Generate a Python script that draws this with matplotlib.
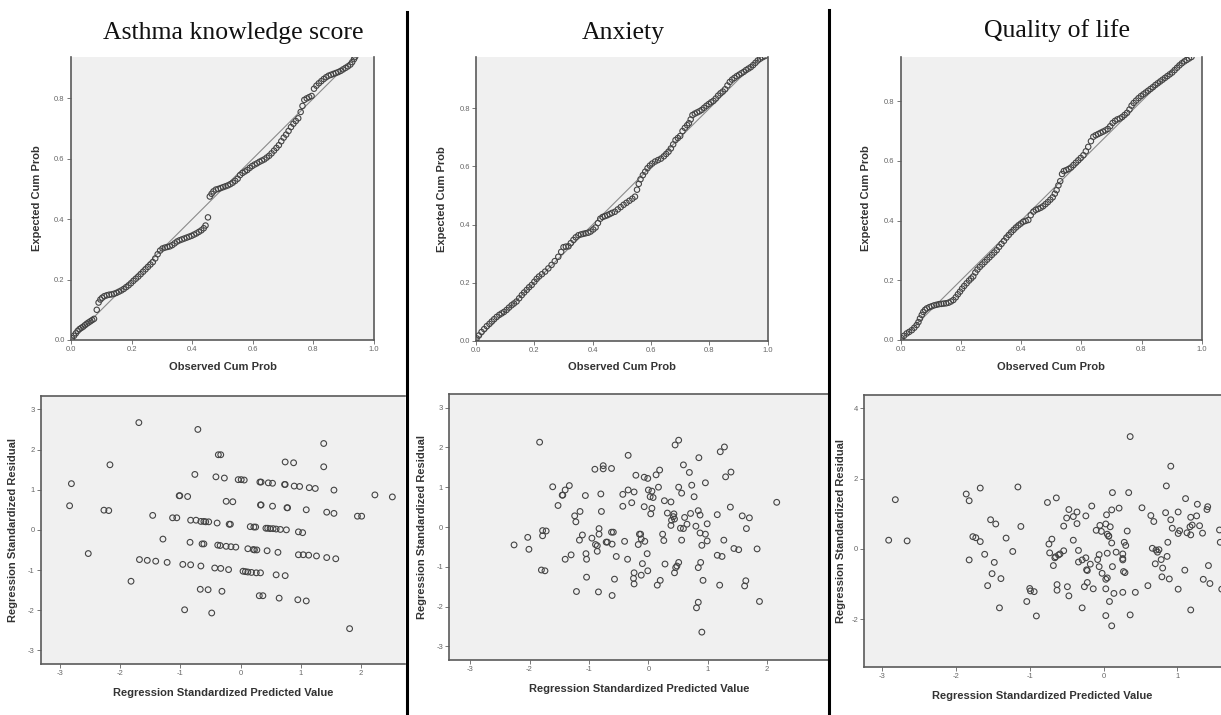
import numpy as np
import matplotlib
matplotlib.use("Agg")
import matplotlib.pyplot as plt
from matplotlib.lines import Line2D

plt.rcParams['font.family'] = ['Liberation Sans', 'DejaVu Sans']
plt.rcParams['axes.unicode_minus'] = False

titles = ["Asthma knowledge score", "Anxiety", "Quality of life"]
pp_xlabel = "Observed Cum Prob"
pp_ylabel = "Expected Cum Prob"
sc_xlabel = "Regression Standardized Predicted Value"
sc_ylabel = "Regression Standardized Residual"

# P-P plot points (observed, expected)
pp1 = [(0.003,0.006),(0.010,0.014),(0.016,0.022),(0.022,0.030),(0.028,0.036),(0.034,0.040),(0.040,0.044),
       (0.046,0.049),(0.052,0.054),(0.058,0.058),(0.064,0.062),(0.070,0.066),(0.076,0.070),(0.085,0.100),
       (0.091,0.124),(0.097,0.134),(0.103,0.140),(0.110,0.145),(0.118,0.148),(0.126,0.150),(0.134,0.151),
       (0.142,0.153),(0.150,0.156),(0.158,0.160),(0.166,0.164),(0.174,0.169),(0.182,0.175),(0.190,0.181),
       (0.198,0.188),(0.206,0.196),(0.214,0.203),(0.222,0.210),(0.230,0.218),(0.238,0.226),(0.246,0.234),
       (0.254,0.242),(0.262,0.250),(0.270,0.258),(0.278,0.270),(0.286,0.284),(0.294,0.296),(0.302,0.303),
       (0.310,0.306),(0.318,0.308),(0.326,0.310),(0.334,0.314),(0.342,0.320),(0.350,0.326),(0.358,0.330),
       (0.366,0.333),(0.374,0.336),(0.382,0.339),(0.390,0.342),(0.398,0.345),(0.406,0.349),(0.414,0.353),
       (0.422,0.358),(0.430,0.363),(0.438,0.370),(0.444,0.379),(0.452,0.406),(0.458,0.475),(0.464,0.484),
       (0.470,0.492),(0.478,0.498),(0.486,0.500),(0.494,0.503),(0.502,0.506),(0.510,0.509),(0.518,0.512),
       (0.526,0.516),(0.534,0.521),(0.542,0.527),(0.550,0.534),(0.558,0.546),(0.566,0.553),(0.574,0.558),
       (0.582,0.563),(0.590,0.570),(0.598,0.576),(0.606,0.581),(0.614,0.585),(0.622,0.590),(0.630,0.594),
       (0.638,0.598),(0.646,0.604),(0.654,0.610),(0.662,0.618),(0.670,0.627),(0.678,0.636),(0.686,0.645),
       (0.694,0.658),(0.702,0.670),(0.710,0.680),(0.718,0.692),(0.726,0.705),(0.734,0.716),(0.742,0.725),
       (0.750,0.734),(0.758,0.755),(0.764,0.775),(0.770,0.795),(0.778,0.800),(0.786,0.804),(0.794,0.808),
       (0.802,0.832),(0.810,0.842),(0.818,0.850),(0.826,0.857),(0.834,0.864),(0.842,0.870),(0.850,0.875),
       (0.858,0.878),(0.866,0.881),(0.874,0.884),(0.882,0.887),(0.890,0.891),(0.898,0.896),(0.906,0.901),
       (0.914,0.906),(0.922,0.912),(0.928,0.920),(0.934,0.930),(0.938,0.938)]

pp2 = [(0.002,0.008),(0.010,0.018),(0.019,0.030),(0.028,0.040),(0.037,0.050),(0.046,0.058),(0.054,0.066),
       (0.062,0.074),(0.071,0.082),(0.080,0.089),(0.088,0.094),(0.096,0.099),(0.105,0.106),(0.113,0.114),
       (0.122,0.122),(0.130,0.128),(0.139,0.135),(0.148,0.146),(0.157,0.157),(0.165,0.166),(0.174,0.175),
       (0.182,0.184),(0.191,0.192),(0.200,0.203),(0.208,0.213),(0.216,0.221),(0.226,0.229),(0.237,0.238),
       (0.248,0.249),(0.259,0.261),(0.270,0.274),(0.282,0.289),(0.292,0.306),(0.300,0.322),(0.308,0.324),
       (0.317,0.325),(0.325,0.336),(0.334,0.347),(0.342,0.356),(0.351,0.363),(0.360,0.366),(0.368,0.368),
       (0.376,0.370),(0.385,0.372),(0.393,0.376),(0.402,0.383),(0.410,0.390),(0.418,0.405),(0.426,0.420),
       (0.434,0.426),(0.442,0.429),(0.450,0.432),(0.458,0.436),(0.466,0.440),(0.476,0.444),(0.486,0.452),
       (0.496,0.460),(0.506,0.468),(0.516,0.475),(0.526,0.482),(0.536,0.489),(0.545,0.496),(0.552,0.520),
       (0.558,0.540),(0.564,0.556),(0.572,0.570),(0.580,0.582),(0.588,0.594),(0.596,0.603),(0.604,0.610),
       (0.614,0.617),(0.624,0.622),(0.634,0.627),(0.644,0.635),(0.652,0.643),(0.660,0.651),(0.668,0.662),
       (0.676,0.676),(0.684,0.691),(0.692,0.698),(0.700,0.705),(0.708,0.722),(0.716,0.733),(0.724,0.742),
       (0.730,0.749),(0.736,0.762),(0.742,0.777),(0.750,0.782),(0.758,0.786),(0.766,0.790),(0.774,0.795),
       (0.782,0.802),(0.790,0.809),(0.798,0.815),(0.806,0.821),(0.814,0.826),(0.822,0.834),(0.830,0.844),
       (0.838,0.852),(0.846,0.858),(0.854,0.866),(0.862,0.879),(0.870,0.891),(0.878,0.899),(0.886,0.905),
       (0.894,0.911),(0.902,0.916),(0.910,0.921),(0.918,0.926),(0.926,0.932),(0.934,0.937),(0.942,0.942),
       (0.950,0.949),(0.958,0.957),(0.966,0.965),(0.974,0.971),(0.982,0.976),(0.990,0.980)]

pp3 = [(0.003,0.006),(0.011,0.014),(0.020,0.022),(0.028,0.027),(0.037,0.033),(0.045,0.041),(0.053,0.050),
       (0.059,0.060),(0.064,0.072),(0.070,0.084),(0.075,0.094),(0.081,0.101),(0.087,0.106),(0.095,0.110),
       (0.103,0.113),(0.111,0.116),(0.119,0.118),(0.127,0.120),(0.135,0.121),(0.143,0.122),(0.151,0.123),
       (0.159,0.125),(0.167,0.129),(0.175,0.134),(0.183,0.143),(0.190,0.153),(0.197,0.162),(0.204,0.172),
       (0.211,0.181),(0.219,0.190),(0.227,0.199),(0.234,0.206),(0.241,0.213),(0.248,0.226),(0.255,0.236),
       (0.263,0.245),(0.271,0.253),(0.279,0.261),(0.287,0.269),(0.295,0.277),(0.303,0.285),(0.311,0.293),
       (0.319,0.301),(0.327,0.312),(0.335,0.322),(0.343,0.332),(0.351,0.343),(0.359,0.352),(0.367,0.361),
       (0.375,0.369),(0.383,0.377),(0.391,0.384),(0.399,0.390),(0.407,0.396),(0.415,0.399),(0.424,0.402),
       (0.432,0.418),(0.441,0.430),(0.449,0.436),(0.457,0.439),(0.465,0.443),(0.473,0.448),(0.481,0.455),
       (0.489,0.462),(0.497,0.470),(0.505,0.478),(0.512,0.490),(0.518,0.502),(0.524,0.518),(0.530,0.532),
       (0.536,0.556),(0.542,0.566),(0.550,0.569),(0.558,0.573),(0.566,0.578),(0.574,0.586),(0.582,0.594),
       (0.590,0.602),(0.598,0.610),(0.607,0.619),(0.615,0.632),(0.623,0.647),(0.632,0.666),(0.640,0.681),
       (0.648,0.686),(0.656,0.690),(0.664,0.694),(0.672,0.698),(0.680,0.702),(0.688,0.707),(0.696,0.716),
       (0.704,0.727),(0.712,0.734),(0.720,0.739),(0.728,0.742),(0.736,0.747),(0.744,0.754),(0.752,0.761),
       (0.760,0.772),(0.767,0.785),(0.774,0.794),(0.782,0.802),(0.790,0.810),(0.798,0.817),(0.806,0.823),
       (0.814,0.829),(0.822,0.835),(0.830,0.841),(0.838,0.847),(0.846,0.854),(0.854,0.860),(0.862,0.866),
       (0.870,0.872),(0.878,0.878),(0.886,0.884),(0.894,0.890),(0.902,0.896),(0.910,0.904),(0.918,0.912),
       (0.926,0.920),(0.934,0.927),(0.942,0.933),(0.950,0.938),(0.958,0.943),(0.966,0.948)]

# Residual scatter points (standardized predicted, standardized residual)
res1 = [(-1.69,2.67),(-0.71,2.50),(1.38,2.15),(-0.37,1.87),(-0.33,1.87),(-2.17,1.62),(0.74,1.69),(0.88,1.67),
        (1.38,1.57),(-2.81,1.15),(-0.76,1.38),(-0.41,1.32),(-0.27,1.29),(-0.04,1.25),(0.01,1.25),(0.06,1.24),
        (0.32,1.19),(0.34,1.19),(0.46,1.17),(0.53,1.16),(0.73,1.13),(0.74,1.13),(0.89,1.09),(0.98,1.08),
        (1.14,1.05),(1.24,1.03),(1.55,0.99),(2.23,0.87),(2.52,0.82),(-1.02,0.85),(-1.01,0.85),(-0.88,0.83),
        (-0.24,0.71),(-0.13,0.70),(0.33,0.62),(0.34,0.62),(0.53,0.59),(0.77,0.55),(0.78,0.55),(1.09,0.50),
        (1.43,0.44),(1.55,0.41),(1.94,0.34),(2.01,0.34),(-2.84,0.60),(-2.27,0.49),(-2.19,0.48),(-1.46,0.36),
        (-1.13,0.30),(-1.06,0.30),(-0.83,0.24),(-0.74,0.24),(-0.66,0.21),(-0.61,0.21),(-0.58,0.20),(-0.53,0.20),
        (-0.39,0.17),(-0.19,0.14),(-0.17,0.14),(0.16,0.08),(0.22,0.07),(0.25,0.07),(0.42,0.04),(0.45,0.04),
        (0.49,0.03),(0.54,0.03),(0.59,0.02),(0.66,0.01),(0.76,0.00),(0.96,-0.05),(1.03,-0.07),(-1.29,-0.23),
        (-0.84,-0.31),(-0.64,-0.35),(-0.61,-0.35),(-0.38,-0.38),(-0.34,-0.39),(-0.24,-0.41),(-0.16,-0.42),
        (-0.08,-0.43),(0.12,-0.47),(0.21,-0.49),(0.23,-0.50),(0.27,-0.50),(0.44,-0.52),(0.62,-0.56),
        (0.96,-0.62),(1.04,-0.62),(1.13,-0.63),(1.26,-0.65),(1.43,-0.69),(1.58,-0.72),(-2.53,-0.59),
        (-1.68,-0.74),(-1.55,-0.76),(-1.41,-0.78),(-1.22,-0.81),(-0.96,-0.86),(-0.83,-0.87),(-0.66,-0.90),
        (-0.43,-0.95),(-0.33,-0.96),(-0.20,-0.99),(0.04,-1.03),(0.08,-1.04),(0.12,-1.05),(0.18,-1.06),
        (0.26,-1.07),(0.33,-1.07),(0.59,-1.12),(0.74,-1.14),(-1.82,-1.28),(-0.67,-1.48),(-0.54,-1.49),
        (-0.31,-1.53),(0.31,-1.64),(0.37,-1.64),(0.64,-1.70),(0.95,-1.74),(1.09,-1.77),(-0.93,-1.99),
        (-0.48,-2.07),(1.81,-2.46)]

res2 = [(-1.83,2.13),(0.45,2.06),(0.51,2.18),(1.21,1.89),(1.28,2.01),(-0.34,1.80),(0.85,1.74),(-0.76,1.54),
        (-0.76,1.46),(-0.90,1.45),(-0.62,1.47),(0.59,1.56),(0.69,1.37),(0.19,1.43),(0.13,1.31),(-0.21,1.30),
        (-0.07,1.25),(-0.01,1.22),(1.39,1.38),(1.30,1.26),(-1.61,1.01),(-1.33,1.04),(-1.40,0.93),(-1.44,0.80),
        (-1.45,0.80),(-1.06,0.79),(-0.80,0.83),(-0.34,0.93),(-0.43,0.82),(-0.24,0.88),(0.00,0.93),(0.06,0.90),
        (0.03,0.76),(0.08,0.74),(0.17,1.00),(0.51,1.00),(0.56,0.85),(0.73,1.05),(0.77,0.76),(0.96,1.11),
        (-1.52,0.54),(-0.43,0.52),(-0.28,0.61),(-0.07,0.51),(0.06,0.47),(0.04,0.33),(0.27,0.66),(0.38,0.63),
        (1.38,0.50),(-1.15,0.39),(-1.24,0.28),(-1.22,0.13),(-0.79,0.39),(0.32,0.35),(0.43,0.33),(0.44,0.20),
        (0.39,0.17),(0.38,0.04),(0.42,0.26),(0.71,0.34),(0.61,0.24),(0.65,0.07),(0.84,0.41),(0.87,0.30),
        (0.99,0.08),(1.16,0.31),(1.58,0.28),(1.70,0.23),(1.65,-0.04),(0.54,-0.03),(0.59,-0.04),(0.80,0.02),
        (-2.03,-0.26),(-2.01,-0.56),(-2.26,-0.45),(-1.78,-0.09),(-1.78,-0.22),(-1.72,-0.10),(-1.80,-1.08),
        (-1.74,-1.10),(-1.30,-0.70),(-1.40,-0.81),(-1.11,-0.20),(-1.16,-0.33),(-1.05,-0.67),(-1.04,-0.81),
        (-0.95,-0.28),(-0.83,-0.04),(-0.83,-0.18),(-0.89,-0.44),(-0.86,-0.47),(-0.86,-0.61),(-0.71,-0.38),
        (-0.69,-0.38),(-0.62,-0.13),(-0.59,-0.13),(-0.61,-0.43),(-0.54,-0.74),(-0.40,-0.36),(-0.35,-0.81),
        (-0.15,-0.18),(-0.13,-0.18),(-0.12,-0.30),(-0.17,-0.44),(-0.06,-0.36),(-0.02,-0.67),(0.24,-0.18),
        (0.26,-0.34),(0.56,-0.33),(0.87,-0.15),(0.96,-0.18),(0.90,-0.46),(0.99,-0.35),(1.27,-0.33),
        (1.16,-0.71),(1.24,-0.74),(1.44,-0.54),(1.52,-0.57),(1.83,-0.55),(2.16,0.62),(-1.04,-1.26),
        (-1.21,-1.62),(-0.84,-1.63),(-0.61,-1.72),(-0.57,-1.31),(-0.24,-1.15),(-0.25,-1.29),(-0.24,-1.43),
        (-0.12,-1.21),(-0.10,-0.92),(-0.01,-1.10),(0.15,-1.46),(0.20,-1.34),(0.28,-0.93),(0.44,-1.15),
        (0.48,-0.98),(0.51,-0.89),(0.46,-1.02),(0.84,-1.02),(0.88,-0.89),(0.92,-1.34),(1.20,-1.46),
        (1.64,-1.35),(1.62,-1.48),(1.87,-1.87),(0.84,-1.89),(0.81,-2.03),(0.90,-2.64)]

res3 = [(-2.91,0.25),(-2.82,1.40),(-2.66,0.23),(-1.86,1.56),(-1.82,1.37),(-1.67,1.73),(-1.82,-0.31),
        (-1.77,0.35),(-1.73,0.32),(-1.67,0.21),(-1.61,-0.15),(-1.57,-1.04),(-1.53,0.83),(-1.46,0.71),
        (-1.48,-0.38),(-1.51,-0.70),(-1.39,-0.84),(-1.41,-1.67),(-1.32,0.31),(-1.23,-0.07),(-1.16,1.76),
        (-1.12,0.64),(-1.04,-1.49),(-1.00,-1.12),(-0.99,-1.19),(-0.94,-1.21),(-0.91,-1.90),(-0.76,1.32),
        (-0.74,0.14),(-0.70,0.28),(-0.73,-0.11),(-0.68,-0.47),(-0.66,-0.25),(-0.65,-0.22),(-0.64,1.45),
        (-0.63,-1.01),(-0.63,-1.17),(-0.61,-0.17),(-0.59,-0.14),(-0.54,-0.05),(-0.54,0.65),(-0.50,0.88),
        (-0.49,-1.07),(-0.47,1.12),(-0.47,-1.33),(-0.41,0.92),(-0.36,1.05),(-0.36,0.72),(-0.41,0.25),
        (-0.34,-0.04),(-0.34,-0.37),(-0.29,-0.31),(-0.29,-1.67),(-0.26,-1.07),(-0.24,0.94),(-0.24,-0.25),
        (-0.23,-0.59),(-0.22,-0.61),(-0.22,-0.95),(-0.18,-0.43),(-0.16,1.22),(-0.14,-1.13),(-0.10,0.53),
        (-0.08,-0.30),(-0.06,-0.16),(-0.06,-0.50),(-0.05,0.67),(-0.03,0.50),(-0.02,-0.69),(0.03,-0.86),
        (0.03,-1.13),(0.03,-1.89),(0.04,0.97),(0.03,0.71),(0.05,0.42),(0.07,0.36),(0.05,-0.82),(0.05,-0.12),
        (0.08,-1.49),(0.09,0.63),(0.07,0.37),(0.11,0.17),(0.11,1.11),(0.12,1.60),(0.12,-0.50),(0.11,-2.18),
        (0.14,-1.26),(0.17,-0.09),(0.21,1.16),(0.26,-0.14),(0.26,-0.27),(0.26,-0.31),(0.26,-1.23),
        (0.27,-0.64),(0.29,-0.67),(0.28,0.19),(0.30,0.10),(0.32,0.51),(0.34,1.60),(0.36,3.19),(0.36,-1.87),
        (0.43,-1.23),(0.52,1.17),(0.60,-1.04),(0.64,0.95),(0.68,0.78),(0.66,0.02),(0.71,-0.03),(0.75,-0.02),
        (0.70,-0.42),(0.73,-0.09),(0.78,-0.30),(0.80,-0.54),(0.79,-0.79),(0.86,-0.21),(0.87,0.19),
        (0.84,1.03),(0.85,1.79),(0.89,-0.85),(0.91,0.83),(0.91,2.35),(0.93,0.59),(1.01,0.44),(1.03,0.52),
        (1.01,1.05),(1.01,-1.14),(1.10,-0.60),(1.11,1.43),(1.13,0.46),(1.18,0.40),(1.17,0.63),(1.18,0.90),
        (1.20,0.68),(1.18,-1.73),(1.26,0.94),(1.27,1.27),(1.30,0.66),(1.34,0.45),(1.35,-0.86),(1.40,1.12),
        (1.41,1.20),(1.42,-0.47),(1.44,-0.98),(1.57,0.54),(1.58,0.19),(1.60,-1.14)]

W, H = 1221, 715
fig = plt.figure(figsize=(W / 100, H / 100), dpi=100)
fig.patch.set_facecolor('white')


def rect(left, top, right, bottom):
    return [left / W, 1 - bottom / H, (right - left) / W, (bottom - top) / H]


BG = '#f0f0f0'
SPINE = '#5a5a5a'
MARK = '#444444'


def style(ax, spines_on):
    ax.set_facecolor(BG)
    for s in ['left', 'right', 'top', 'bottom']:
        ax.spines[s].set_visible(s in spines_on)
        ax.spines[s].set_color(SPINE)
        ax.spines[s].set_linewidth(1.2)
    ax.tick_params(direction='out', length=3, width=0.7, color='#777777',
                   labelsize=5.5, labelcolor='#666666', pad=1.5)


pp_sets = [pp1, pp2, pp3]
pp_rects = [rect(71, 57, 374, 340), rect(476, 57, 767.7, 340.7), rect(900.7, 57, 1201.7, 340)]
pp_ytop = [0.937, 0.977, 0.948]
title_x = [233, 623, 1057]
title_y = [33, 33, 31]

for i in range(3):
    ax = fig.add_axes(pp_rects[i])
    style(ax, ['left', 'bottom', 'right'])
    ax.plot([0, 1], [0, 1], color='#8a8a8a', lw=0.8, zorder=2)
    d = np.array(pp_sets[i])
    ax.scatter(d[:, 0], d[:, 1], s=15, facecolors='none', edgecolors=MARK, linewidths=0.8, zorder=3)
    ax.set_xlim(0, 1)
    ax.set_ylim(0, pp_ytop[i])
    ax.set_xticks([0, 0.2, 0.4, 0.6, 0.8, 1.0])
    ax.set_yticks([0, 0.2, 0.4, 0.6, 0.8])
    ax.xaxis.set_major_formatter(matplotlib.ticker.FormatStrFormatter('%.1f'))
    ax.yaxis.set_major_formatter(matplotlib.ticker.FormatStrFormatter('%.1f'))
    ax.set_xlabel(pp_xlabel, fontsize=8, fontweight='bold', color='#333333', labelpad=6)
    ax.set_ylabel(pp_ylabel, fontsize=8, fontweight='bold', color='#333333', labelpad=9)
    fig.text(title_x[i] / W, 1 - title_y[i] / H, titles[i], fontsize=18.5, family='Liberation Serif',
             ha='center', va='center', color='#111111')

sc_sets = [res1, res2, res3]
sc_rects = [rect(40.7, 395.7, 405, 664), rect(449.3, 394, 829, 660), rect(864.3, 395, 1221, 666.7)]
sc_xlim = [(-3.32, 2.73), (-3.35, 3.04), (-3.24, 1.59)]
sc_ylim = [(-3.34, 3.34), (-3.34, 3.34), (-3.34, 4.37)]
sc_yticks = [[-3, -2, -1, 0, 1, 2, 3], [-3, -2, -1, 0, 1, 2, 3], [-2, 0, 2, 4]]
sc_xticks = [[-3, -2, -1, 0, 1, 2], [-3, -2, -1, 0, 1, 2], [-3, -2, -1, 0, 1]]
sc_ypad = [7, 7, 4]

for i in range(3):
    ax = fig.add_axes(sc_rects[i])
    style(ax, ['left', 'bottom', 'top'])
    d = np.array(sc_sets[i])
    ax.scatter(d[:, 0], d[:, 1], s=17, facecolors='none', edgecolors=MARK, linewidths=0.8, zorder=3)
    ax.set_xlim(*sc_xlim[i])
    ax.set_ylim(*sc_ylim[i])
    ax.set_xticks(sc_xticks[i])
    ax.set_yticks(sc_yticks[i])
    ax.set_xlabel(sc_xlabel, fontsize=8, fontweight='bold', color='#333333', labelpad=8)
    ax.set_ylabel(sc_ylabel, fontsize=8, fontweight='bold', color='#333333', labelpad=sc_ypad[i])

# vertical divider lines
for xd, y0 in [(406.5, 12), (829, 10)]:
    fig.add_artist(Line2D([xd / W, xd / W], [1 - y0 / H, 0], transform=fig.transFigure,
                          color='black', lw=2.2))

fig.savefig('out.png', dpi=100, facecolor='white')
